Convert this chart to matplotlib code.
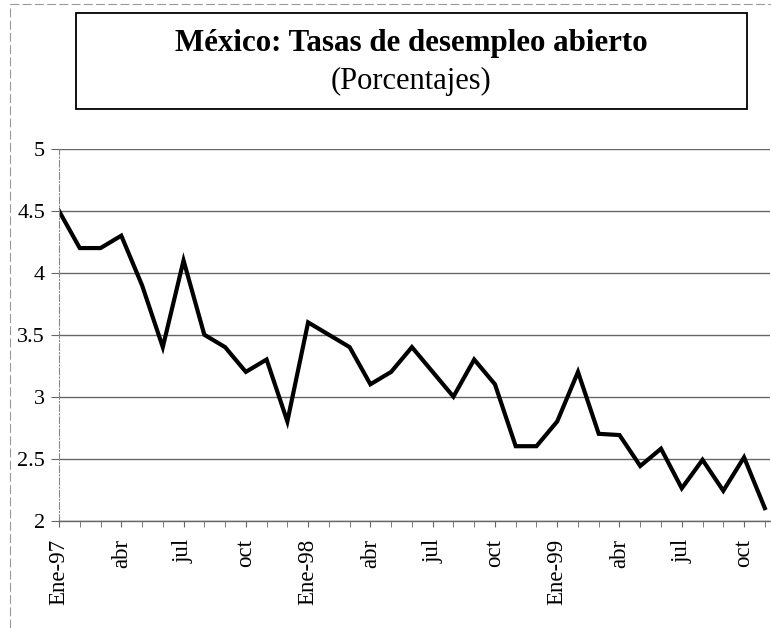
import matplotlib.pyplot as plt
from matplotlib.lines import Line2D
from matplotlib.patches import Rectangle

plt.rcParams['font.family'] = 'serif'
plt.rcParams['font.serif'] = ['Liberation Serif', 'DejaVu Serif']

# Tasa de desempleo abierto, mensual, Ene-97 a Nov-99
tasa_1997 = [4.5, 4.2, 4.2, 4.3, 3.9, 3.4, 4.1, 3.5, 3.4, 3.2, 3.3, 2.8]
tasa_1998 = [3.6, 3.5, 3.4, 3.1, 3.2, 3.4, 3.2, 3.0, 3.3, 3.1, 2.6, 2.6]
tasa_1999 = [2.8, 3.2, 2.7, 2.69, 2.44, 2.58, 2.26, 2.49, 2.24, 2.51, 2.1]
tasas = tasa_1997 + tasa_1998 + tasa_1999

etiquetas = ['Ene-97', 'abr', 'jul', 'oct',
             'Ene-98', 'abr', 'jul', 'oct',
             'Ene-99', 'abr', 'jul', 'oct']
y_ticks = [2, 2.5, 3, 3.5, 4, 4.5, 5]

meses = list(range(len(tasas)))

fig = plt.figure(figsize=(7.71, 6.28), dpi=100)
ax = fig.add_axes([59 / 771, 1 - 520.5 / 628, (770 - 59) / 771, (520.5 - 149) / 628])

ax.plot(meses, tasas, color='black', linewidth=3.0, solid_joinstyle='miter')

ax.set_xlim(0, 34.25)
ax.set_ylim(2, 5)
ax.set_yticks(y_ticks)
ax.set_yticklabels(['2', '2.5', '3', '3.5', '4', '4.5', '5'], fontsize=16)
ax.set_xticks(meses, minor=True)
ax.set_xticks(meses[::3])
ax.set_xticklabels(etiquetas, rotation=90, fontsize=16.5)

ax.grid(axis='y', color='#666666', linewidth=1.0)
ax.tick_params(axis='y', length=6, color='#666666', pad=4)
ax.tick_params(axis='x', which='both', length=4, color='#666666', direction='out', pad=9)

for s in ['top', 'right']:
    ax.spines[s].set_visible(False)
ax.spines['bottom'].set_color('#666666')
ax.spines['bottom'].set_linewidth(1.0)
ax.spines['left'].set_color('#888888')
ax.spines['left'].set_linewidth(0.8)
ax.spines['left'].set_linestyle((0, (6, 2, 1, 2)))

# recuadro del titulo
cx = (76 + 747) / 2 / 771
fig.add_artist(Rectangle((76 / 771, 1 - 109 / 628), (747 - 76) / 771, (109 - 13) / 628,
                         transform=fig.transFigure, fill=False, edgecolor='black', linewidth=1.3))
fig.text(cx, 1 - 44 / 628, 'México: Tasas de desempleo abierto', ha='center', va='center',
         fontsize=22.3, fontweight='bold')
fig.text(cx, 1 - 81 / 628, '(Porcentajes)', ha='center', va='center', fontsize=22)

# bordes del area del grafico
fig.add_artist(Line2D([10 / 771, 10 / 771], [0, 1 - 4 / 628], transform=fig.transFigure,
                      color='#999999', linewidth=0.8, linestyle=(0, (8, 3))))
fig.add_artist(Line2D([10 / 771, 1], [1 - 4 / 628, 1 - 4 / 628], transform=fig.transFigure,
                      color='#999999', linewidth=0.8, linestyle=(0, (8, 3))))

fig.savefig('out.png', dpi=100)
